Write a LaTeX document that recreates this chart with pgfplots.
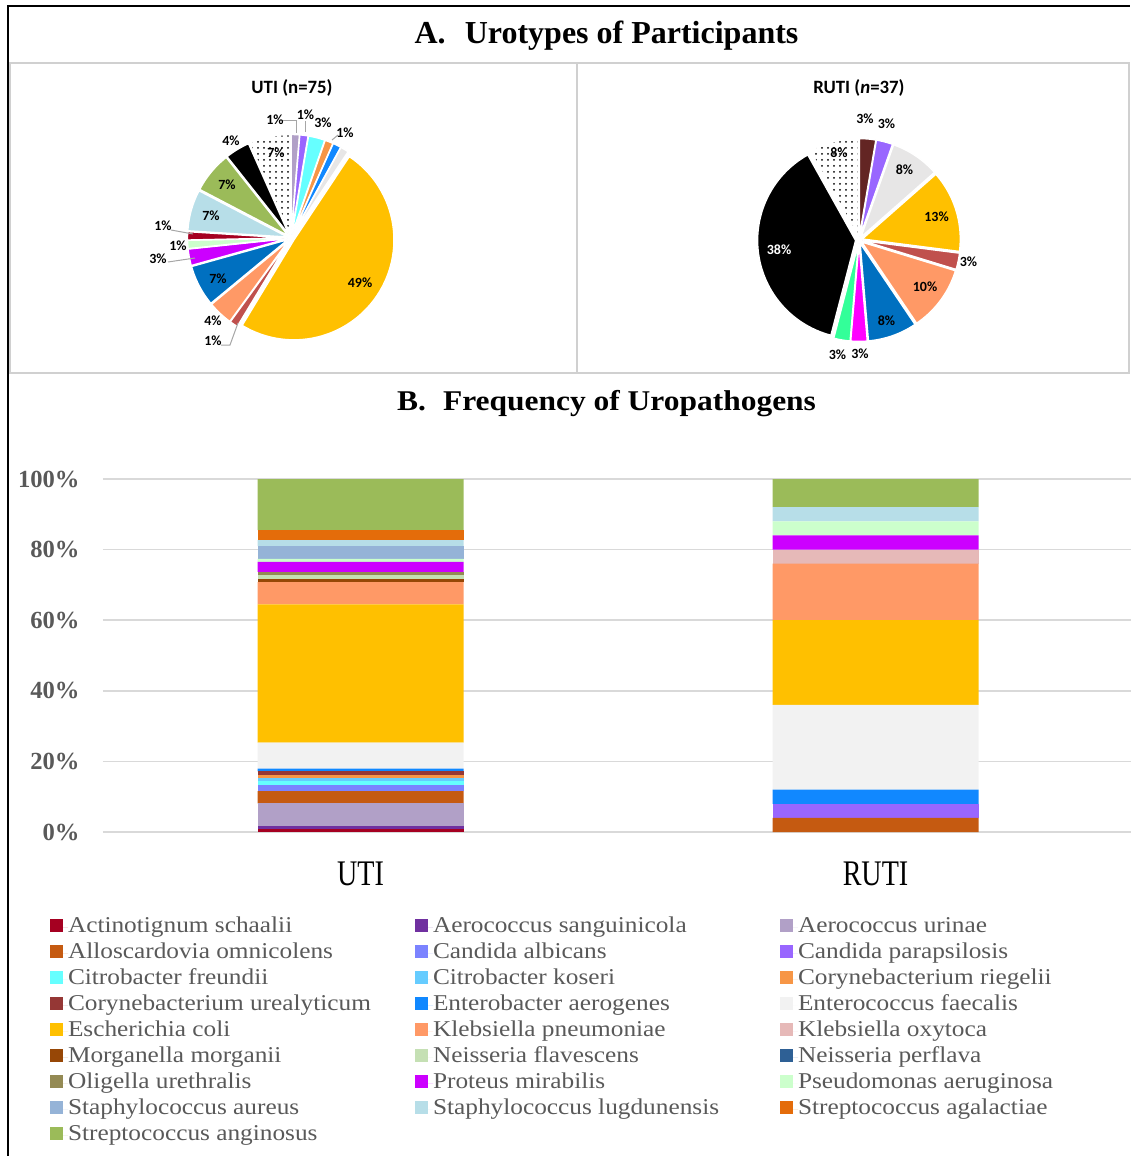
\documentclass[border=0pt]{standalone}
\usepackage{pgfplots}
\pgfplotsset{compat=1.18}
\usetikzlibrary{patterns}
\usepackage{fontspec}
\setmainfont{Liberation Serif}
\newfontfamily\legfont[FakeStretch=1.12]{Liberation Serif}
\newfontfamily\titleBfont[FakeStretch=1.1]{Liberation Serif}
\newfontfamily\catfont[FakeStretch=0.78]{Liberation Serif}
\newfontfamily\calibri{Carlito}

\definecolor{cActin}{HTML}{A50021}
\definecolor{cAsang}{HTML}{7030A0}
\definecolor{cAur}{HTML}{B1A0C7}
\definecolor{cAllo}{HTML}{C55A11}
\definecolor{cCalb}{HTML}{7B83FF}
\definecolor{cCpar}{HTML}{9966FF}
\definecolor{cCfr}{HTML}{66FFFF}
\definecolor{cCko}{HTML}{66CCFF}
\definecolor{cCri}{HTML}{F79646}
\definecolor{cCur}{HTML}{953735}
\definecolor{cEnt}{HTML}{1188FF}
\definecolor{cEfa}{HTML}{F2F2F2}
\definecolor{cEco}{HTML}{FFC000}
\definecolor{cKpn}{HTML}{FF9966}
\definecolor{cKox}{HTML}{E6B9B8}
\definecolor{cMor}{HTML}{974706}
\definecolor{cNfl}{HTML}{C5E0B4}
\definecolor{cNpe}{HTML}{2E6095}
\definecolor{cOli}{HTML}{948A54}
\definecolor{cPro}{HTML}{CC00FF}
\definecolor{cPse}{HTML}{CCFFCC}
\definecolor{cSau}{HTML}{95B3D7}
\definecolor{cSlu}{HTML}{B7DEE8}
\definecolor{cSag}{HTML}{E46C0A}
\definecolor{cSan}{HTML}{9BBB59}
\definecolor{cGray}{HTML}{595959}
\definecolor{cGrid}{HTML}{D9D9D9}
\definecolor{cPanel}{HTML}{D0D0D0}
\definecolor{cLead}{HTML}{A6A6A6}
\definecolor{pRed}{HTML}{C0504D}
\definecolor{pDblue}{HTML}{0070C0}
\definecolor{pLgray}{HTML}{E7E6E6}
\definecolor{pBrown}{HTML}{632523}
\definecolor{pMag}{HTML}{FF00FF}
\definecolor{pGreen}{HTML}{33FF99}

% slice: start angle, end angle (math degrees), style
\newcommand{\slice}[3]{\addplot[#3, draw=white, line width=0.7pt, domain=#1:#2, samples=60]
  ({0.035*cos((#1+#2)/2)+cos(x)},{0.035*sin((#1+#2)/2)+sin(x)})
  -- ({0.035*cos((#1+#2)/2)},{0.035*sin((#1+#2)/2)}) -- cycle;}
\newcommand{\LE}[1]{\addlegendentry{\makebox[173.5pt][l]{#1}}}

\begin{document}
\begin{tikzpicture}[x=0.5pt,y=-0.5pt]
\useasboundingbox (0,0) rectangle (1130,1156);

% frames
\draw[line width=1pt] (8,1156) -- (8,6) -- (1130,6);
\draw[cPanel, line width=1pt] (10,63) -- (1129,63) -- (1129,373) -- (10,373) -- cycle;
\draw[cPanel, line width=1pt] (577,63) -- (577,373);

% titles
\node[anchor=base, font=\bfseries\fontsize{16}{16}\selectfont] at (606.5,43.5) {A.\hspace{0.6em}Urotypes of Participants};
\node[anchor=base, font=\titleBfont\bfseries\fontsize{14.3}{14.3}\selectfont] at (606.5,410) {B.\hspace{0.6em}Frequency of Uropathogens};

\node[font=\calibri\bfseries\fontsize{9.4}{9.4}\selectfont] at (292,88) {UTI (n=75)};
\node[font=\calibri\bfseries\fontsize{9.4}{9.4}\selectfont] at (859,88) {RUTI (\textit{n}=37)};

% UTI pie
\begin{axis}[at={(145.5pt,-119pt)}, anchor=center, width=140pt, height=140pt, scale only axis,
  xmin=-1.4, xmax=1.4, ymin=-1.4, ymax=1.4, hide axis, clip=false]
\slice{85.2}{90}{fill=cAur}
\slice{80.4}{85.2}{fill=cCpar}
\slice{70.8}{80.4}{fill=cCfr}
\slice{66}{70.8}{fill=cCri}
\slice{61.2}{66}{fill=cEnt}
\slice{56.4}{61.2}{fill=pLgray}
\slice{-121.2}{56.4}{fill=cEco}
\slice{-126}{-121.2}{fill=pRed}
\slice{-140.4}{-126}{fill=cKpn}
\slice{-164.4}{-140.4}{fill=pDblue}
\slice{-174}{-164.4}{fill=cPro}
\slice{-178.8}{-174}{fill=cPse}
\slice{-183.6}{-178.8}{fill=cActin}
\slice{-207.6}{-183.6}{fill=cSlu}
\slice{-231.6}{-207.6}{fill=cSan}
\slice{-246}{-231.6}{fill=black}
\slice{-270}{-246}{pattern=dots}
\end{axis}

% RUTI pie
\begin{axis}[at={(429.5pt,-120pt)}, anchor=center, width=137.2pt, height=137.2pt, scale only axis,
  xmin=-1.4, xmax=1.4, ymin=-1.4, ymax=1.4, hide axis, clip=false]
\slice{80.27}{90}{fill=pBrown}
\slice{70.54}{80.27}{fill=cCpar}
\slice{41.35}{70.54}{fill=pLgray}
\slice{-7.30}{41.35}{fill=cEco}
\slice{-17.03}{-7.30}{fill=pRed}
\slice{-55.95}{-17.03}{fill=cKpn}
\slice{-85.14}{-55.95}{fill=pDblue}
\slice{-94.86}{-85.14}{fill=pMag}
\slice{-104.59}{-94.86}{fill=pGreen}
\slice{-240.81}{-104.59}{fill=black}
\slice{-270}{-240.81}{pattern=dots}
\end{axis}

% pie labels
\begin{scope}[every node/.style={font=\calibri\bfseries\fontsize{7}{7}\selectfont, inner sep=0pt}]
\draw[cLead, line width=0.5pt] (282,121) -- (296,121) -- (296,133);
\draw[cLead, line width=0.5pt] (305,121) -- (305,132);
\draw[cLead, line width=0.5pt] (332,140) -- (338,135);
\draw[cLead, line width=0.5pt] (171,230) -- (193,234);
\draw[cLead, line width=0.5pt] (168,262) -- (195,258);
\draw[cLead, line width=0.5pt] (221,345) -- (230,345) -- (238,323);
\node at (275,120) {1\%};
\node at (305.5,115) {1\%};
\node at (323,122.5) {3\%};
\node at (345,133) {1\%};
\node at (231,141) {4\%};
\node at (276,153) {7\%};
\node at (227,185) {7\%};
\node at (211,216) {7\%};
\node at (163,226) {1\%};
\node at (178,246) {1\%};
\node at (158,259) {3\%};
\node at (218,279) {7\%};
\node at (213,321) {4\%};
\node at (213,341) {1\%};
\node at (360,283) {49\%};
% RUTI
\node at (865,119) {3\%};
\node at (886.5,123.5) {3\%};
\node at (904.5,169.5) {8\%};
\node at (936.5,217) {13\%};
\node at (968.5,261.5) {3\%};
\node at (925,287) {10\%};
\node at (886.5,320.5) {8\%};
\node at (837.5,355) {3\%};
\node at (860,354) {3\%};
\node[text=white] at (779,250) {38\%};
\node at (839,153) {8\%};
\end{scope}

% stacked bars
\begin{axis}[at={(51.5pt,-416pt)}, anchor=south west,
  width=515pt, height=176.5pt, scale only axis,
  xmin=-0.5, xmax=1.5, ymin=0, ymax=100,
  ybar stacked, bar width=103pt,
  xtick={0,1}, xticklabels={UTI,RUTI},
  ytick={0,20,40,60,80,100},
  yticklabel={\pgfmathprintnumber[assume math mode=true]{\tick}\%},
  yticklabel style={font=\bfseries\fontsize{12.3}{12.3}\selectfont, text=cGray, inner sep=0pt, anchor=east, xshift=-11.5pt},
  xticklabel style={font=\catfont\fontsize{18}{18}\selectfont, text=black, inner sep=0pt, anchor=north, yshift=-15pt},
  ymajorgrids, grid style={draw=cGrid, line width=0.75pt},
  axis line style={draw=none}, major tick length=0pt,
  clip=false,
  legend columns=3, legend cell align=left,
  legend style={at={(-0.05146,-0.2388)}, anchor=north west, draw=none, fill=none,
    inner sep=0pt, outer sep=0pt, row sep=2pt,
    font=\color{cGray}\legfont\fontsize{11.3}{11.3}\selectfont,
    nodes={inner sep=0pt, text height=8pt, text depth=3pt}},
  every axis plot post/.append style={draw=none,
    legend image code/.code={\fill[##1,draw=none] (0pt,-2.5pt) rectangle (6.5pt,4pt); \path (0pt,0pt) -- (9pt,0pt);}},
]
\addplot[fill=cActin] coordinates {(0,0.93) (1,0)}; \LE{Actinotignum schaalii}
\addplot[fill=cAsang] coordinates {(0,0.77) (1,0)}; \LE{Aerococcus sanguinicola}
\addplot[fill=cAur] coordinates {(0,6.43) (1,0)}; \LE{Aerococcus urinae}
\addplot[fill=cAllo] coordinates {(0,3.48) (1,4)}; \LE{Alloscardovia omnicolens}
\addplot[fill=cCalb] coordinates {(0,1.70) (1,0)}; \LE{Candida albicans}
\addplot[fill=cCpar] coordinates {(0,0) (1,4)}; \LE{Candida parapsilosis}
\addplot[fill=cCfr] coordinates {(0,1.22) (1,0)}; \LE{Citrobacter freundii}
\addplot[fill=cCko] coordinates {(0,0.77) (1,0)}; \LE{Citrobacter koseri}
\addplot[fill=cCri] coordinates {(0,0.85) (1,0)}; \LE{Corynebacterium riegelii}
\addplot[fill=cCur] coordinates {(0,1.05) (1,0)}; \LE{Corynebacterium urealyticum}
\addplot[fill=cEnt] coordinates {(0,0.73) (1,4)}; \LE{Enterobacter aerogenes}
\addplot[fill=cEfa] coordinates {(0,7.37) (1,24)}; \LE{Enterococcus faecalis}
\addplot[fill=cEco] coordinates {(0,39.2) (1,24)}; \LE{Escherichia coli}
\addplot[fill=cKpn] coordinates {(0,6.3) (1,16)}; \LE{Klebsiella pneumoniae}
\addplot[fill=cKox] coordinates {(0,0) (1,4)}; \LE{Klebsiella oxytoca}
\addplot[fill=cMor] coordinates {(0,0.96) (1,0)}; \LE{Morganella morganii}
\addplot[fill=cNfl] coordinates {(0,1.04) (1,0)}; \LE{Neisseria flavescens}
\addplot[fill=cNpe] coordinates {(0,0) (1,0)}; \LE{Neisseria perflava}
\addplot[fill=cOli] coordinates {(0,0.9) (1,0)}; \LE{Oligella urethralis}
\addplot[fill=cPro] coordinates {(0,2.8) (1,4)}; \LE{Proteus mirabilis}
\addplot[fill=cPse] coordinates {(0,0.9) (1,4)}; \LE{Pseudomonas aeruginosa}
\addplot[fill=cSau] coordinates {(0,3.6) (1,0)}; \LE{Staphylococcus aureus}
\addplot[fill=cSlu] coordinates {(0,1.7) (1,4)}; \LE{Staphylococcus lugdunensis}
\addplot[fill=cSag] coordinates {(0,2.85) (1,0)}; \LE{Streptococcus agalactiae}
\addplot[fill=cSan] coordinates {(0,14.45) (1,8)}; \LE{Streptococcus anginosus}
\end{axis}
\end{tikzpicture}
\end{document}
